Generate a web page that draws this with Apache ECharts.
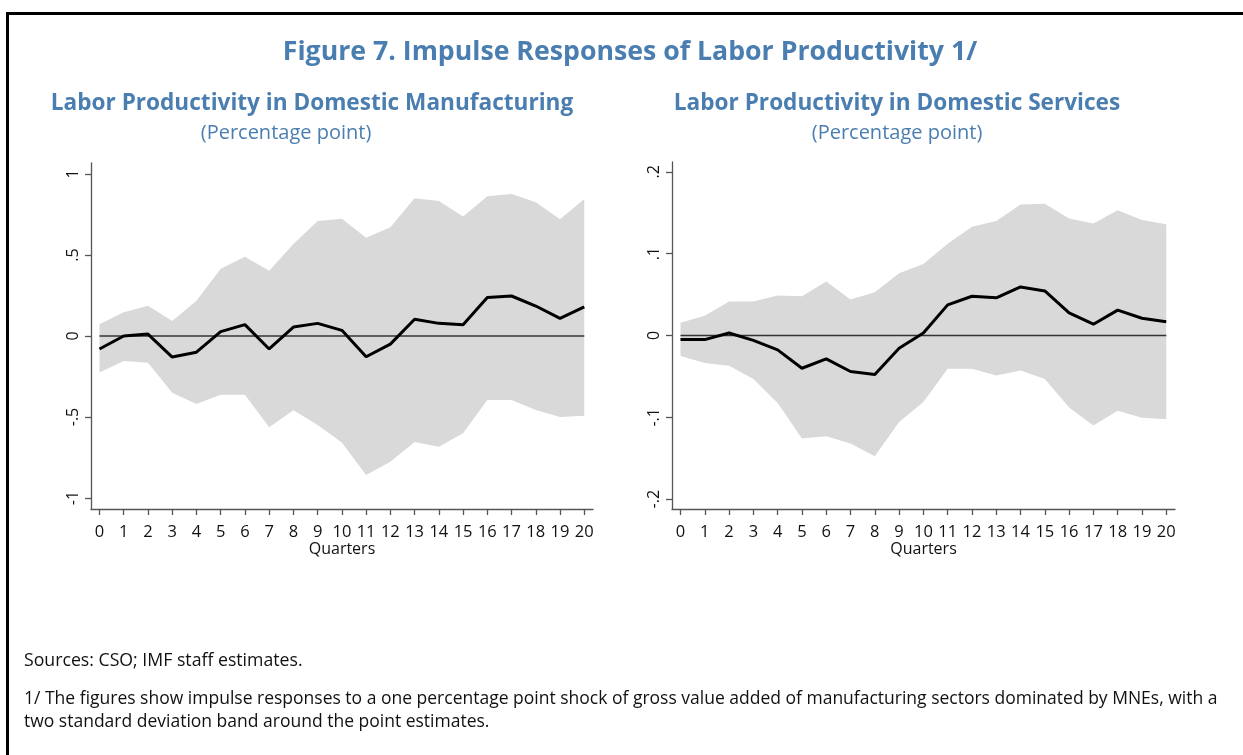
<!DOCTYPE html>
<html>
<head>
<meta charset="utf-8">
<script src="https://cdn.jsdelivr.net/npm/echarts@6/dist/echarts.min.js"></script>
<style>
  html, body { margin: 0; padding: 0; background: #fff; }
  #frame { position: absolute; left: 6px; top: 12px; width: 1300px; height: 800px;
           border-top: 3px solid #000; border-left: 3px solid #000; }
  #main { position: absolute; left: 0; top: 0; width: 1243px; height: 755px; }
</style>
</head>
<body>
<div id="frame"></div>
<div id="main"></div>
<script>
// quarters after the shock
const quarters = [0, 1, 2, 3, 4, 5, 6, 7, 8, 9, 10, 11, 12, 13, 14, 15, 16, 17, 18, 19, 20];

// domestic manufacturing
const mfgResponse = [-0.08, 0.0, 0.012, -0.13, -0.10, 0.027, 0.07, -0.08, 0.055, 0.078, 0.035,
                     -0.128, -0.05, 0.103, 0.078, 0.07, 0.237, 0.247, 0.185, 0.109, 0.18];
const mfgUpper = [0.072, 0.146, 0.187, 0.093, 0.218, 0.415, 0.49, 0.403, 0.568, 0.71, 0.724,
                  0.607, 0.671, 0.85, 0.833, 0.737, 0.862, 0.877, 0.825, 0.72, 0.846];
const mfgLower = [-0.226, -0.154, -0.165, -0.35, -0.42, -0.362, -0.362, -0.564, -0.459, -0.55, -0.658,
                  -0.858, -0.776, -0.654, -0.683, -0.601, -0.395, -0.395, -0.457, -0.5, -0.492];

// domestic services
const svcResponse = [-0.005, -0.005, 0.003, -0.006, -0.0175, -0.040, -0.0285, -0.044, -0.0476, -0.0155, 0.003,
                     0.0374, 0.048, 0.046, 0.0593, 0.0545, 0.0276, 0.0138, 0.031, 0.0211, 0.0167];
const svcUpper = [0.0155, 0.024, 0.0415, 0.0415, 0.049, 0.048, 0.066, 0.044, 0.0528, 0.076, 0.0874,
                  0.112, 0.133, 0.14, 0.16, 0.161, 0.143, 0.137, 0.153, 0.141, 0.136];
const svcLower = [-0.025, -0.0337, -0.037, -0.053, -0.0825, -0.126, -0.123, -0.132, -0.1476, -0.1057, -0.0813,
                  -0.0407, -0.0407, -0.0488, -0.0427, -0.053, -0.088, -0.11, -0.092, -0.1004, -0.1024];

// tick labels
const mfgTicks = [-1, -0.5, 0, 0.5, 1];
const svcTicks = [-0.2, -0.1, 0, 0.1, 0.2];

const blue = '#4A7EB0';
const font = '"Open Sans", "Noto Sans", sans-serif';

// stata style: .5 instead of 0.5
const stataLabel = (v) => String(Math.round(v * 100) / 100).replace('0.', '.');

const pairs = (vals) => vals.map((v, i) => [quarters[i], v]);

const bandSeries = (idx, upper, lower) => ({
    type: 'custom',
    xAxisIndex: idx,
    yAxisIndex: idx,
    silent: true,
    z: 1,
    data: [0],
    renderItem: (params, api) => {
        const pts = [];
        for (let i = 0; i < upper.length; i++) pts.push(api.coord([quarters[i], upper[i]]));
        for (let i = lower.length - 1; i >= 0; i--) pts.push(api.coord([quarters[i], lower[i]]));
        return { type: 'polygon', shape: { points: pts }, style: { fill: '#d9d9d9' } };
    }
});

const xAxisDef = (idx) => ({
    type: 'value',
    gridIndex: idx,
    min: -0.35,
    max: 20.36,
    splitLine: { show: false },
    axisLine: { onZero: false, lineStyle: { color: '#555', width: 1.3 } },
    axisTick: { customValues: quarters, length: 6, lineStyle: { color: '#555', width: 1.3 } },
    axisLabel: { customValues: quarters, color: '#111', fontSize: 16.5, fontFamily: font, margin: 15 },
    name: 'Quarters',
    nameLocation: 'middle',
    nameGap: 25,
    nameTextStyle: { color: '#111', fontSize: 16, fontFamily: font }
});

const yAxisDef = (idx, lim, ticks) => ({
    type: 'value',
    gridIndex: idx,
    min: -lim,
    max: lim,
    splitLine: { show: false },
    axisLine: { onZero: false, lineStyle: { color: '#555', width: 1.3 } },
    axisTick: { customValues: ticks, length: 6, lineStyle: { color: '#555', width: 1.3 } },
    axisLabel: { customValues: ticks, rotate: 90, color: '#111', fontSize: 16, fontFamily: font,
                 margin: 10, formatter: stataLabel }
});

const lineSeries = (idx, vals, color, width) => ({
    type: 'line',
    xAxisIndex: idx,
    yAxisIndex: idx,
    data: pairs(vals),
    symbol: 'none',
    silent: true,
    z: 3,
    lineStyle: { color, width }
});

const zeroSeries = (idx) => ({
    type: 'line',
    xAxisIndex: idx,
    yAxisIndex: idx,
    data: [[quarters[0], 0], [quarters[quarters.length - 1], 0]],
    symbol: 'none',
    silent: true,
    z: 2,
    lineStyle: { color: '#333', width: 1.4 }
});

const textBox = (text, left, top, size, weight, color, extra) => Object.assign({
    text, left, top, padding: 0,
    textStyle: Object.assign({ color, fontSize: size, fontWeight: weight, fontFamily: font }, extra || {})
}, extra && extra.textAlign ? { textAlign: extra.textAlign } : {});

const myChart = echarts.init(document.getElementById('main'), null, { renderer: 'canvas' });
const option = {
    backgroundColor: 'transparent',
    animation: false,
    title: [
        textBox('Figure 7. Impulse Responses of Labor Productivity 1/', 630, 39, 26.7, 'bold', blue, { textAlign: 'center' }),
        textBox('Labor Productivity in Domestic Manufacturing', 312, 92, 22.6, 'bold', blue, { textAlign: 'center' }),
        textBox('(Percentage point)', 286, 123, 20, 'normal', blue, { textAlign: 'center' }),
        textBox('Labor Productivity in Domestic Services', 897, 92, 22.6, 'bold', blue, { textAlign: 'center' }),
        textBox('(Percentage point)', 897, 123, 20, 'normal', blue, { textAlign: 'center' }),
        textBox('Sources: CSO; IMF staff estimates.', 24, 652, 17.7, 'normal', '#111'),
        textBox('1/ The figures show impulse responses to a one percentage point shock of gross value added of manufacturing sectors dominated by MNEs, with a\ntwo standard deviation band around the point estimates.',
                24, 688, 17.5, 'normal', '#111', { lineHeight: 23 })
    ],
    grid: [
        { left: 91, top: 163, width: 502, height: 346 },
        { left: 672, top: 162, width: 503, height: 347 }
    ],
    xAxis: [xAxisDef(0), xAxisDef(1)],
    yAxis: [yAxisDef(0, 1.068, mfgTicks), yAxisDef(1, 0.212, svcTicks)],
    series: [
        bandSeries(0, mfgUpper, mfgLower),
        zeroSeries(0),
        lineSeries(0, mfgResponse, '#000', 3),
        bandSeries(1, svcUpper, svcLower),
        zeroSeries(1),
        lineSeries(1, svcResponse, '#000', 3)
    ]
};
myChart.setOption(option);
window.addEventListener('resize', function () {
    myChart.resize();
});
</script>
</body>
</html>
